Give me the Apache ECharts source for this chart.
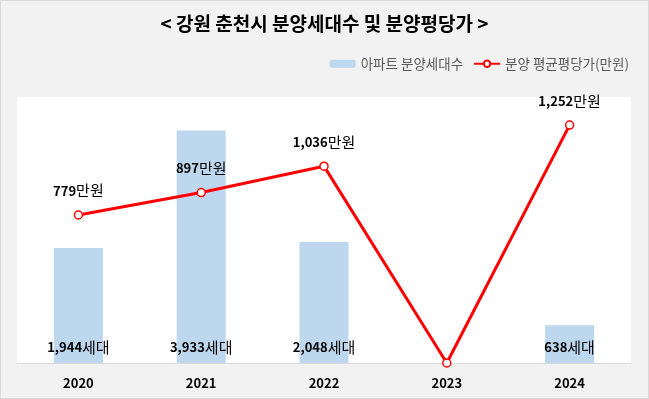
<!DOCTYPE html>
<html>
<head>
<meta charset="utf-8">
<script src="https://cdn.jsdelivr.net/npm/echarts@6/dist/echarts.min.js"></script>
<style>
  html, body { margin: 0; padding: 0; background: #fff; }
  #chart { width: 647px; height: 397px; border: 1px solid #d9d9d9; }
</style>
</head>
<body>
<div id="chart"></div>
<script>
var years = ['2020', '2021', '2022', '2023', '2024'];
var units = [1944, 3933, 2048, 0, 638];
var prices = [779, 897, 1036, 0, 1252];

var font = '"Noto Sans CJK KR", "Noto Sans", sans-serif';

function fmt(v) {
  return v.toLocaleString('en-US');
}

var chart = echarts.init(document.getElementById('chart'));
chart.setOption({
  backgroundColor: '#f2f2f2',
  textStyle: { fontFamily: font },
  title: {
    text: '< 강원 춘천시 분양세대수 및 분양평당가 >',
    left: 'center',
    top: 8,
    textStyle: { fontSize: 19, fontWeight: 'bold', color: '#000', fontFamily: font }
  },
  legend: {
    right: 14,
    top: 51,
    itemGap: 10,
    itemWidth: 26,
    itemHeight: 8,
    textStyle: { fontSize: 13.5, color: '#595959', fontFamily: font },
    data: ['아파트 분양세대수', '분양 평균평당가(만원)']
  },
  grid: {
    left: 16,
    right: 17,
    top: 96,
    bottom: 35,
    show: true,
    backgroundColor: '#fff',
    borderWidth: 0
  },
  xAxis: {
    type: 'category',
    data: years,
    axisLine: { lineStyle: { color: '#d9d9d9', width: 1 } },
    axisTick: { show: false },
    axisLabel: { fontSize: 13, fontWeight: 'bold', color: '#000', margin: 14, fontFamily: font }
  },
  yAxis: [
    { type: 'value', min: 0, max: 4500, show: false, splitLine: { show: false } },
    { type: 'value', min: 0, max: 1400, show: false, splitLine: { show: false } }
  ],
  series: [
    {
      name: '아파트 분양세대수',
      type: 'bar',
      data: units,
      barWidth: 49,
      itemStyle: { color: '#bdd7ee' },
      label: {
        show: true,
        position: 'insideBottom',
        distance: 8,
        formatter: function (p) {
          return p.value ? '{n|' + fmt(p.value) + '}{u|세대}' : '';
        },
        rich: {
          n: { fontSize: 13, fontWeight: 'bold', color: '#000', fontFamily: font },
          u: { fontSize: 15, color: '#000', fontFamily: font }
        }
      }
    },
    {
      name: '분양 평균평당가(만원)',
      type: 'line',
      yAxisIndex: 1,
      data: prices,
      symbol: 'circle',
      symbolSize: 8,
      showAllSymbol: true,
      lineStyle: { color: '#ff0000', width: 3 },
      itemStyle: { color: '#fff', borderColor: '#ff0000', borderWidth: 1.5 },
      label: {
        show: true,
        position: 'top',
        distance: 12,
        formatter: function (p) {
          return p.value ? '{n|' + fmt(p.value) + '}{u|만원}' : '';
        },
        rich: {
          n: { fontSize: 13, fontWeight: 'bold', color: '#000', fontFamily: font },
          u: { fontSize: 15, color: '#000', fontFamily: font }
        }
      }
    }
  ]
});
</script>
</body>
</html>
